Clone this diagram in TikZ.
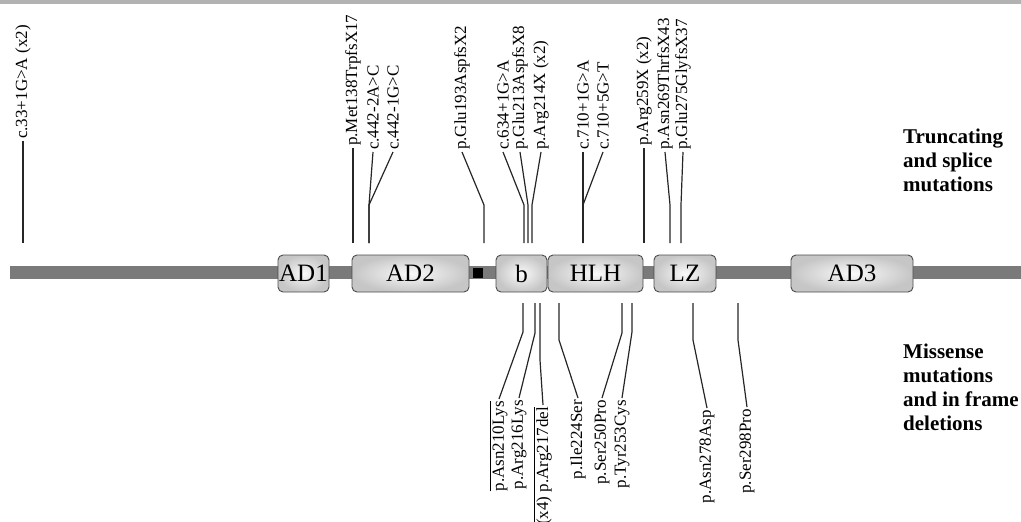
\documentclass[tikz,border=0pt]{standalone}
\usepackage{fontspec}
\setmainfont{Liberation Serif}
\usepackage{xcolor}
\newcommand\ovl[1]{\vbox{\hrule height 0.8pt\kern1.5pt\hbox{#1}}}

\begin{document}
\begin{tikzpicture}%
  [x=1pt,y=-1pt,
   mut/.style={rotate=90,inner sep=2pt,font=\fontsize{17}{19}\selectfont},
   lead/.style={line width=1.2pt,black!85}]
  \tikzstyle{dom node}=[rectangle,rounded corners=5pt,draw=black!70,line width=0.9pt,
    inner color=gray!4,outer color=gray!45,minimum height=37pt,inner sep=0pt,
    font=\fontsize{25}{27}\selectfont]
  \tikzstyle{head node}=[align=left,anchor=north west,inner sep=0pt,
    font=\bfseries\fontsize{21}{24}\selectfont]
  \useasboundingbox (0,0) rectangle (1021,522);
  \fill[black!30] (0,0) rectangle (1021,3.5);
  % protein backbone and domains
  \fill[black!52] (10,266) rectangle (1021,279);
  \node(sq)[fill=black,minimum size=10pt,inner sep=0pt] at (478,273) {};
  \node(ad1)[dom node,minimum width=51pt] at (303.5,273.5) {AD1};
  \node(ad2)[dom node,minimum width=117pt] at (410.5,273.5) {AD2};
  \node(b)[dom node,minimum width=51pt] at (521.5,273.5) {b};
  \node(hlh)[dom node,minimum width=95pt] at (595.5,273.5) {HLH};
  \node(lz)[dom node,minimum width=62pt] at (685,273.5) {LZ};
  \node(ad3)[dom node,minimum width=122pt] at (852,273.5) {AD3};
  % truncating and splice mutations (above)
  \foreach \x/\y/\kx/\lab [count=\i] in {
      23/141/23/{c.33+1G>A (x2)},
      353/148/353/{p.Met138TrpfsX17},
      373/152/369/{c.442-2A>C},
      393/152/369/{c.442-1G>C},
      462/152/484/{p.Glu193AspfsX2},
      503/152/524/{c.634+1G>A},
      520/152/528/{p.Glu213AspfsX8},
      541/152/532/{p.Arg214X (x2)},
      583/152/583/{c.710+1G>A},
      603/152/583/{c.710+5G>T},
      644/148/644/{p.Arg259X (x2)},
      665/152/670/{p.Asn269ThrfsX43},
      683/152/681/{p.Glu275GlyfsX37}}{
    \node(t\i)[mut,anchor=west] at (\x,\y) {\lab};
    \draw[lead] (t\i.west) -- (\kx,205) -- (\kx,243);
  }
  % missense mutations and in frame deletions (below)
  \foreach \x/\y/\kx/\ky/\lab [count=\i] in {
      499/399/523/332/{\ovl{p.Asn210Lys}},
      519/398/535/333/{p.Arg216Lys},
      543/405/540/360/{\ovl{(x4) p.Arg217del}},
      578/398/559/340/{p.Ile224Ser},
      602/398/622/333/{p.Ser250Pro},
      622/398/632/332/{p.Tyr253Cys},
      707/408/693/340/{p.Asn278Asp},
      747/407/738/340/{p.Ser298Pro}}{
    \node(m\i)[mut,anchor=east] at (\x,\y) {\lab};
    \draw[lead] (m\i.east) -- (\kx,\ky) -- (\kx,303);
  }
  \node(trunc)[head node] at (903,129) {Truncating\\and splice\\mutations};
  \node(miss)[head node] at (903,344) {Missense\\mutations\\and in frame\\deletions};
\end{tikzpicture}
\end{document}
